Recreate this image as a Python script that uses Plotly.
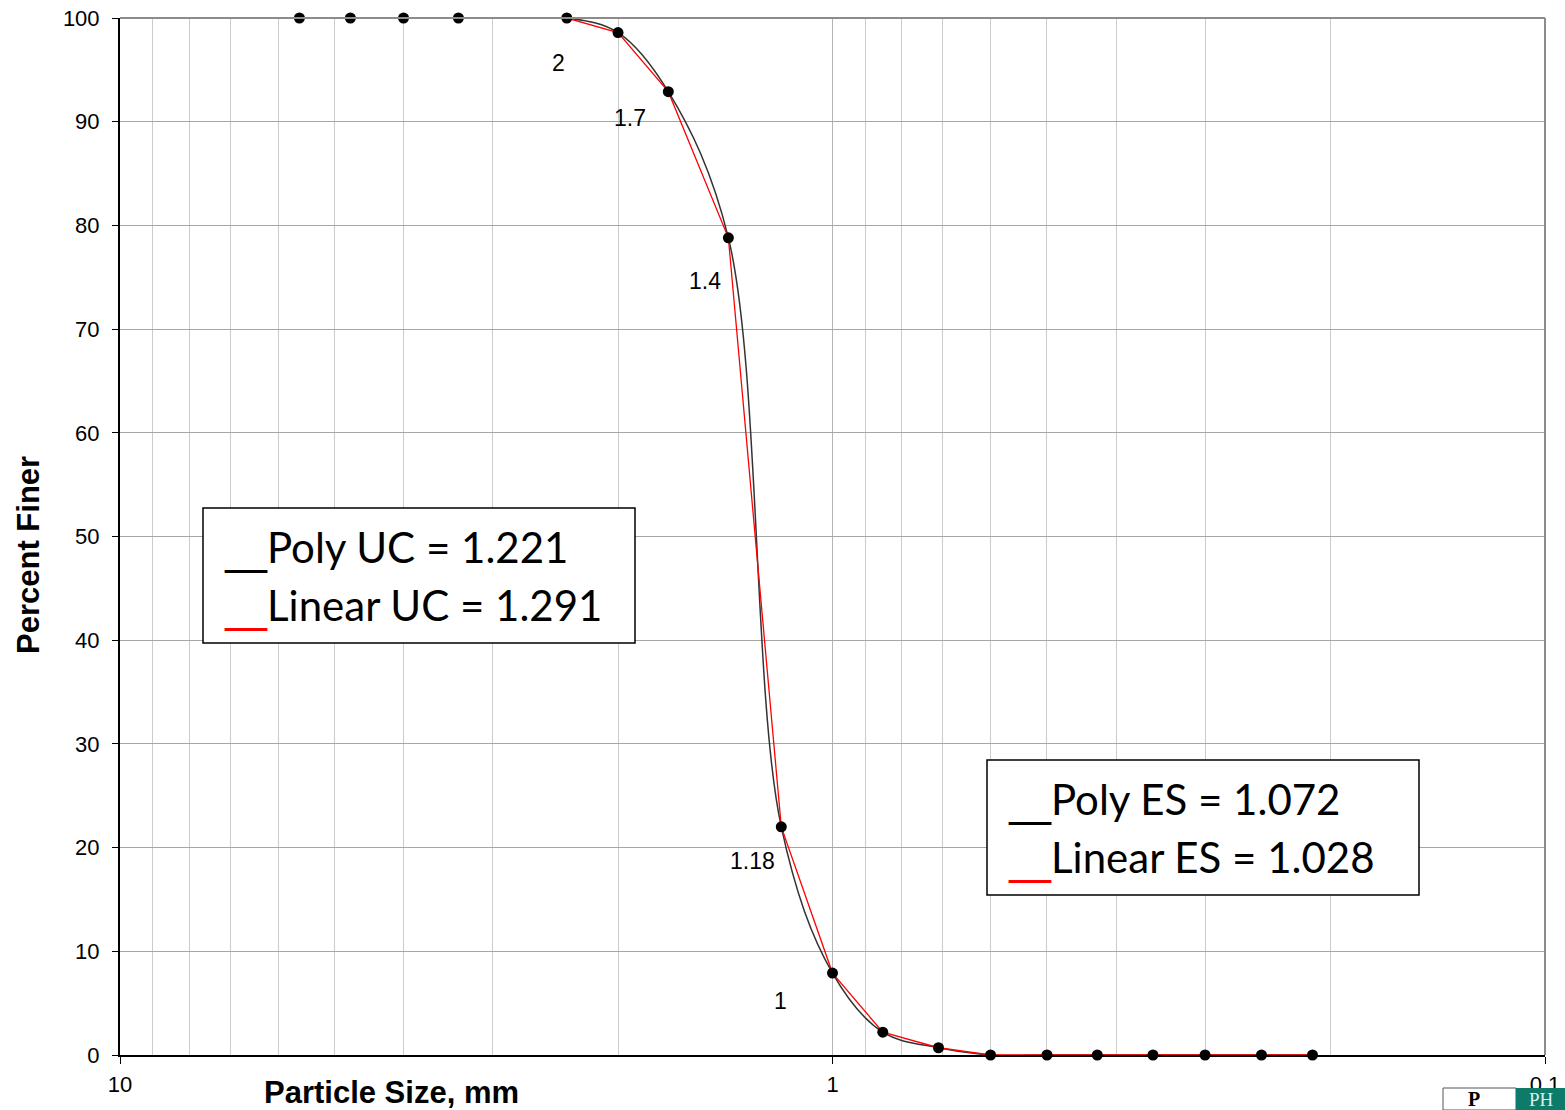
import math
import plotly.graph_objects as go

# ---- data ----
sieve_mm = [5.6, 4.75, 4.0, 3.35, 2.36, 2.0, 1.7, 1.4, 1.18, 1.0, 0.85, 0.71, 0.6, 0.5, 0.425, 0.355, 0.3, 0.25, 0.212]
percent_finer = [100, 100, 100, 100, 100, 98.6, 92.9, 78.8, 22.0, 7.9, 2.2, 0.7, 0, 0, 0, 0, 0, 0, 0]

label_sizes = [2.0, 1.7, 1.4, 1.18, 1.0]
label_pct = [98.6, 92.9, 78.8, 22.0, 7.9]
label_text = ["2", "1.7", "1.4", "1.18", "1"]
label_dx = [-60, -38, -23, -29, -52]
label_dy = [-30, -26, -43, -34, -28]

x_tick_vals = [10, 1, 0.1]
x_tick_text = ["10", "1", "0.1"]
x_minor_vals = [9, 8, 7, 6, 5, 4, 3, 2, 0.9, 0.8, 0.7, 0.6, 0.5, 0.4, 0.3, 0.2]
y_tick_vals = [0, 10, 20, 30, 40, 50, 60, 70, 80, 90, 100]

W, H = 1565, 1110
L, R, T, B = 120, 20, 18, 55
PW, PH = W - L - R, H - T - B

def px(xp):
    return (xp - L) / PW

def py(yp):
    return (H - B - yp) / PH

fig = go.Figure()

# polynomial-style smooth curve
fig.add_trace(go.Scatter(
    x=sieve_mm, y=percent_finer, mode="lines",
    line=dict(color="#333333", width=1.5, shape="spline", smoothing=1.0),
    hoverinfo="skip", showlegend=False, cliponaxis=False))

# linear curve
fig.add_trace(go.Scatter(
    x=sieve_mm, y=percent_finer, mode="lines",
    line=dict(color="#ff0000", width=1.3),
    hoverinfo="skip", showlegend=False, cliponaxis=False))

# data points
fig.add_trace(go.Scatter(
    x=sieve_mm, y=percent_finer, mode="markers",
    marker=dict(color="black", size=11),
    showlegend=False, cliponaxis=False))

annotations = []
for xs, ys, t, dx, dy in zip(label_sizes, label_pct, label_text, label_dx, label_dy):
    annotations.append(dict(x=math.log10(xs), y=ys, xref="x", yref="y", text=t, showarrow=False,
                            xshift=dx, yshift=dy, xanchor="center", yanchor="middle",
                            font=dict(family="Arial, Liberation Sans", size=23, color="black")))

# axis titles
annotations.append(dict(x=px(28), y=py(555), xref="paper", yref="paper", text="<b>Percent Finer</b>",
                        textangle=-90, showarrow=False, xanchor="center", yanchor="middle",
                        font=dict(family="Arial, Liberation Sans", size=31, color="black")))
annotations.append(dict(x=px(391), y=py(1092), xref="paper", yref="paper", text="<b>Particle Size, mm</b>",
                        showarrow=False, xanchor="center", yanchor="middle",
                        font=dict(family="Arial, Liberation Sans", size=31, color="black")))

box_font = dict(family="Lato", size=42, color="black")
US = "<span style='font-family:DejaVu Sans'>__</span>"
US_RED = "<span style='font-family:DejaVu Sans;color:#ff0000'>__</span>"
# box 1 text
annotations.append(dict(x=px(222), y=py(547), xref="paper", yref="paper", xanchor="left", yanchor="middle",
                        text=US + "Poly UC = 1.221", showarrow=False, font=box_font))
annotations.append(dict(x=px(222), y=py(605), xref="paper", yref="paper", xanchor="left", yanchor="middle",
                        text=US_RED + "Linear UC = 1.291", showarrow=False, font=box_font))
# box 2 text
annotations.append(dict(x=px(1006), y=py(799), xref="paper", yref="paper", xanchor="left", yanchor="middle",
                        text=US + "Poly ES = 1.072", showarrow=False, font=box_font))
annotations.append(dict(x=px(1006), y=py(857), xref="paper", yref="paper", xanchor="left", yanchor="middle",
                        text=US_RED + "Linear ES = 1.028", showarrow=False, font=box_font))

# logo text
annotations.append(dict(x=px(1541), y=py(1099), xref="paper", yref="paper", text="PH",
                        showarrow=False, xanchor="center", yanchor="middle",
                        font=dict(family="Liberation Serif", size=19, color="#d8f0ea")))
annotations.append(dict(x=px(1474), y=py(1099), xref="paper", yref="paper", text="<b>P</b>",
                        showarrow=False, xanchor="center", yanchor="middle",
                        font=dict(family="Liberation Serif", size=20, color="black")))

shapes = [
    # top & right border (gray)
    dict(type="line", xref="paper", yref="paper", x0=0, x1=1, y0=1, y1=1, line=dict(color="#8c8c8c", width=2)),
    dict(type="line", xref="paper", yref="paper", x0=1, x1=1, y0=0, y1=1, line=dict(color="#8c8c8c", width=2)),
    # text boxes
    dict(type="rect", xref="paper", yref="paper", x0=px(203), x1=px(635), y0=py(643), y1=py(508),
         line=dict(color="black", width=1.5), fillcolor="white", layer="above"),
    dict(type="rect", xref="paper", yref="paper", x0=px(987), x1=px(1419), y0=py(895), y1=py(760),
         line=dict(color="black", width=1.5), fillcolor="white", layer="above"),
    # logo
    dict(type="rect", xref="paper", yref="paper", x0=px(1443), x1=px(1516), y0=py(1110), y1=py(1088),
         line=dict(color="#555555", width=1), fillcolor="white", layer="above"),
    dict(type="rect", xref="paper", yref="paper", x0=px(1516), x1=px(1565), y0=py(1110), y1=py(1088),
         line=dict(width=0), fillcolor="#0e7a6a", layer="above"),
]

fig.update_layout(
    width=W, height=H,
    margin=dict(l=L, r=R, t=T, b=B, autoexpand=False),
    paper_bgcolor="white", plot_bgcolor="white",
    showlegend=False,
    annotations=annotations,
    shapes=shapes,
    font=dict(family="Arial, Liberation Sans", size=22, color="black"),
    xaxis=dict(type="log", range=[1, -1], tickvals=x_tick_vals, ticktext=x_tick_text,
               showgrid=True, gridcolor="#b4b4b4", gridwidth=1,
               minor=dict(tickvals=x_minor_vals, showgrid=True, gridcolor="#cccccc", gridwidth=1, ticks=""),
               showline=True, linecolor="black", linewidth=2, ticks="outside", ticklen=7, tickcolor="black",
               ticklabelstandoff=2, zeroline=False,
               tickfont=dict(family="Arial, Liberation Sans", size=22, color="black")),
    yaxis=dict(range=[0, 100], tickvals=y_tick_vals, showgrid=True, gridcolor="#a6a6a6", gridwidth=1,
               showline=True, linecolor="black", linewidth=2, ticks="outside", ticklen=6, tickcolor="black",
               ticklabelstandoff=8, zeroline=False,
               tickfont=dict(family="Arial, Liberation Sans", size=22, color="black")),
)

fig.write_html("out.html")
